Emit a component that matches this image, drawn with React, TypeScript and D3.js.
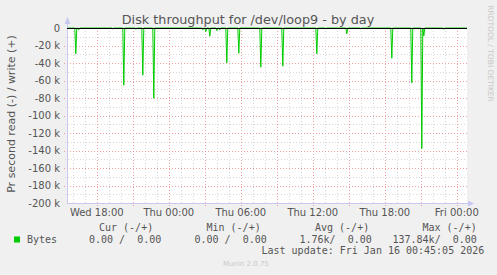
import React from "react";
import * as d3 from "d3";

const W = 497;
const H = 275;

const title = "Disk throughput for /dev/loop9 - by day";
const yLabel = "Pr second read (-) / write (+)";
const sideLabel = "RRDTOOL / TOBI OETIKER";
const footer = "Munin 2.0.75";

const startTime = "2026-01-14T15:31:00Z";
const endTime = "2026-01-16T00:51:00Z";

// read spikes (bytes/s, shown negative)
const spikeTimes = [
  "2026-01-14T16:15:00Z", "2026-01-14T16:30:00Z", "2026-01-14T19:20:00Z",
  "2026-01-14T20:15:00Z", "2026-01-14T21:15:00Z", "2026-01-14T21:50:00Z",
  "2026-01-14T22:45:00Z", "2026-01-15T02:50:00Z", "2026-01-15T03:05:00Z",
  "2026-01-15T03:25:00Z", "2026-01-15T04:00:00Z", "2026-01-15T04:15:00Z",
  "2026-01-15T04:50:00Z", "2026-01-15T05:50:00Z", "2026-01-15T07:40:00Z",
  "2026-01-15T09:30:00Z", "2026-01-15T12:20:00Z", "2026-01-15T13:05:00Z",
  "2026-01-15T14:50:00Z", "2026-01-15T16:00:00Z", "2026-01-15T18:35:00Z",
  "2026-01-15T20:15:00Z", "2026-01-15T21:05:00Z", "2026-01-15T21:15:00Z",
  "2026-01-15T22:55:00Z",
];
const spikeReads = [
  29500, 2000, 1000,
  65400, 1500, 53900,
  80200, 2000, 4000,
  9400, 3000, 2000,
  39800, 28800, 44800,
  43700, 29500, 1000,
  6600, 1000, 34500,
  62600, 137840, 9000,
  1500,
];

const yTicks = [0, -20000, -40000, -60000, -80000, -100000, -120000, -140000, -160000, -180000, -200000];
const yTickLabels = ["0", "-20 k", "-40 k", "-60 k", "-80 k", "-100 k", "-120 k", "-140 k", "-160 k", "-180 k", "-200 k"];

const legendHeaders = ["Cur (-/+)", "Min (-/+)", "Avg (-/+)", "Max (-/+)"];
const legendSeries = "Bytes";
const legendValues = ["0.00 /  0.00", "0.00 /  0.00", "1.76k/  0.00", "137.84k/  0.00"];
const lastUpdate = "Last update: Fri Jan 16 00:45:05 2026";

export default function App() {
  const X0 = 67, X1 = 467, Y0 = 28, Y1 = 203;
  const x = d3.scaleUtc().domain([new Date(startTime), new Date(endTime)]).range([X0, X1]);
  const y = d3.scaleLinear().domain([-200000, 0]).range([Y1, Y0]);

  const spikeMap = new Map<number, number>();
  spikeTimes.forEach((t, i) => spikeMap.set(new Date(t).getTime(), spikeReads[i]));
  const times = d3.utcMinute.every(5)!.range(new Date(startTime), new Date(endTime));
  const series = times.map((t) => ({ t, v: -(spikeMap.get(t.getTime()) ?? 0) }));
  const line = d3.line<{ t: Date; v: number }>().x((d) => x(d.t)).y((d) => y(d.v));

  const hours = d3.utcHour.range(new Date(startTime), new Date(endTime));
  const minorY = d3.range(-190000, 0, 10000).filter((v) => v % 20000 !== 0);
  const fmt = d3.utcFormat("%a %H:%M");
  const labelHours = hours.filter((h) => h.getUTCHours() % 6 === 0);

  const sans = "'DejaVu Sans', sans-serif";
  const mono = "'DejaVu Sans Mono', monospace";
  const headerX = [99, 206.5, 315, 422.5];
  const valueX = [89, 194.5, 299.5, 392.5];
  const px = (v: number) => Math.round(v) + 0.5;

  return (
    <svg width={W} height={H} style={{ position: "absolute", left: 0, top: 0 }}>
      <rect x={0} y={0} width={W} height={H} fill="#f0f0f0" />
      <rect x={X0} y={Y0} width={X1 - X0} height={Y1 - Y0} fill="#ffffff" />
      {/* minor grid */}
      {hours.filter((h) => h.getUTCHours() % 3 !== 0).map((h, i) => (
        <line key={"mv" + i} x1={px(x(h))} x2={px(x(h))} y1={Y0} y2={Y1 + 2}
          stroke="#d8d8d8" strokeDasharray="1,2" />
      ))}
      {minorY.map((v, i) => (
        <line key={"mh" + i} x1={X0 - 2} x2={X1} y1={px(y(v))} y2={px(y(v))}
          stroke="#d8d8d8" strokeDasharray="1,2" />
      ))}
      {/* major grid */}
      {hours.filter((h) => h.getUTCHours() % 3 === 0).map((h, i) => (
        <line key={"Mv" + i} x1={px(x(h))} x2={px(x(h))} y1={Y0} y2={Y1 + 3}
          stroke="#f0a0a0" strokeDasharray="1,2" />
      ))}
      {yTicks.slice(1, -1).map((v, i) => (
        <line key={"Mh" + i} x1={X0 - 3} x2={X1} y1={px(y(v))} y2={px(y(v))}
          stroke="#f0a0a0" strokeDasharray="1,2" />
      ))}
      {/* axes */}
      <line x1={X0 + 0.5} x2={X0 + 0.5} y1={Y1 + 1} y2={20} stroke="#c8c8f0" />
      <path d={`M${X0 - 2.5},${24} L${X0 + 0.5},${17} L${X0 + 3.5},${24} Z`} fill="#c8c8f0" />
      <line x1={X0} x2={X1 + 2} y1={Y1 + 0.5} y2={Y1 + 0.5} stroke="#c8c8f0" />
      <path d={`M${X1 + 1},${Y1 - 2.5} L${X1 + 7},${Y1 + 0.5} L${X1 + 1},${Y1 + 3.5} Z`} fill="#c8c8f0" />
      {/* data */}
      <path d={line(series) ?? ""} fill="none" stroke="#00cc00" strokeWidth={1} />
      <line x1={X0} x2={X1} y1={Y0 + 0.5} y2={Y0 + 0.5} stroke="#000000" />
      {/* y tick labels */}
      {yTicks.map((v, i) => (
        <text key={"yt" + i} x={60} y={y(v) + 3.5} textAnchor="end" fontFamily={sans} fontSize={10} fill="#555">
          {yTickLabels[i]}
        </text>
      ))}
      {/* x tick labels */}
      {labelHours.map((h, i) => (
        <text key={"xt" + i} x={x(h)} y={215.5} textAnchor="middle" fontFamily={sans} fontSize={10} fill="#555">
          {fmt(h)}
        </text>
      ))}
      <text x={248} y={24} textAnchor="middle" fontFamily={sans} fontSize={12.8} fill="#555">{title}</text>
      <text transform={`translate(15,114) rotate(-90)`} textAnchor="middle" fontFamily={sans} fontSize={11} fill="#555">{yLabel}</text>
      <text transform={`translate(488,53.5) rotate(90)`} textAnchor="middle" fontFamily={sans} fontSize={7.5} fill="#c8c8c8">{sideLabel}</text>
      {/* legend */}
      {legendHeaders.map((s, i) => (
        <text key={"lh" + i} x={headerX[i]} y={231} fontFamily={mono} fontSize={10} fill="#555" style={{ whiteSpace: "pre" }}>{s}</text>
      ))}
      <rect x={14} y={236.5} width={6} height={6} fill="#00cc00" />
      <text x={27} y={242.5} fontFamily={mono} fontSize={10} fill="#555">{legendSeries}</text>
      {legendValues.map((s, i) => (
        <text key={"lv" + i} x={valueX[i]} y={242.5} fontFamily={mono} fontSize={10} fill="#555" style={{ whiteSpace: "pre" }}>{s}</text>
      ))}
      <text x={261.5} y={254} fontFamily={mono} fontSize={10} fill="#555" style={{ whiteSpace: "pre" }}>{lastUpdate}</text>
      <text x={223} y={266} fontFamily={sans} fontSize={7} fill="#c8c8c8">{footer}</text>
    </svg>
  );
}
